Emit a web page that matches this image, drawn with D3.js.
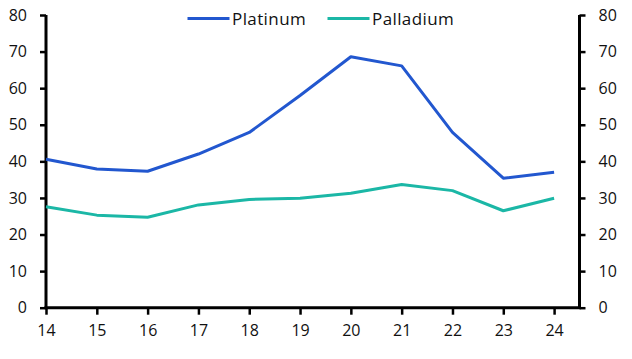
<!DOCTYPE html>
<html>
<head>
<meta charset="utf-8">
<script src="https://cdn.jsdelivr.net/npm/d3@7"></script>
<style>
  html, body { margin: 0; padding: 0; background: #fff; }
  svg { display: block; font-family: "Open Sans", "Noto Sans", sans-serif; }
</style>
</head>
<body>
<svg id="chart" width="632" height="359"></svg>
<script>
const years = [14, 15, 16, 17, 18, 19, 20, 21, 22, 23, 24];
const platinum = [40.6, 37.9, 37.3, 42.0, 47.9, 58.0, 68.6, 66.1, 47.9, 35.4, 37.0];
const palladium = [27.6, 25.3, 24.7, 28.1, 29.6, 29.9, 31.3, 33.7, 32.0, 26.5, 29.9];
const yTicks = [0, 10, 20, 30, 40, 50, 60, 70, 80];
const seriesNames = ["Platinum", "Palladium"];
const colors = ["#2257cf", "#1bb7a6"];

(function () {
const svg = d3.select("#chart");
const mLeft = 46, mRight = 579.5, mTop = 15, mBottom = 307.7;

const x = d3.scaleLinear().domain([14, 24.5]).range([mLeft, mRight]);
const y = d3.scaleLinear().domain([0, 80]).range([mBottom, mTop]);

const yLeft = d3.axisLeft(y).tickValues(yTicks).tickSize(6).tickPadding(13);
const yRight = d3.axisRight(y).tickValues(yTicks).tickSize(6).tickPadding(13);
const xAxis = d3.axisBottom(x).tickValues(years).tickSize(7).tickPadding(10);

function style(g) {
  g.select(".domain").remove();
  g.selectAll(".tick line").attr("stroke", "#000").attr("stroke-width", 2.5);
  g.selectAll(".tick text").attr("fill", "#111").style("font-size", "16px")
    .style("font-family", "'Open Sans', 'Noto Sans', sans-serif");
}

svg.append("g").attr("transform", `translate(${mLeft},0)`).call(yLeft).call(style);
svg.append("g").attr("transform", `translate(${mRight},0)`).call(yRight).call(style);
svg.append("g").attr("transform", `translate(0,${mBottom})`).call(xAxis).call(style);

svg.append("line").attr("x1", mLeft).attr("x2", mLeft).attr("y1", mTop).attr("y2", mBottom)
  .attr("stroke", "#000").attr("stroke-width", 3);
svg.append("line").attr("x1", mRight).attr("x2", mRight).attr("y1", mTop).attr("y2", mBottom)
  .attr("stroke", "#000").attr("stroke-width", 3);
svg.append("line").attr("x1", mLeft - 1.5).attr("x2", mRight + 1.5).attr("y1", mBottom).attr("y2", mBottom)
  .attr("stroke", "#000").attr("stroke-width", 3);

const line = d3.line().x((d, i) => x(years[i])).y(d => y(d));
[platinum, palladium].forEach((s, k) => {
  svg.append("path").datum(s).attr("d", line)
    .attr("fill", "none").attr("stroke", colors[k]).attr("stroke-width", 3)
    .attr("stroke-linejoin", "round");
});

const legendX = [187.5, 327.5];
seriesNames.forEach((name, k) => {
  const g = svg.append("g").attr("transform", `translate(${legendX[k]},18.5)`);
  g.append("line").attr("x1", 0).attr("x2", 42).attr("y1", 0).attr("y2", 0)
    .attr("stroke", colors[k]).attr("stroke-width", 3);
  g.append("text").attr("x", 44.5).attr("y", 6).text(name)
    .attr("fill", "#111").style("font-size", "17px").style("letter-spacing", "0.4px");
});
})();
</script>
</body>
</html>
